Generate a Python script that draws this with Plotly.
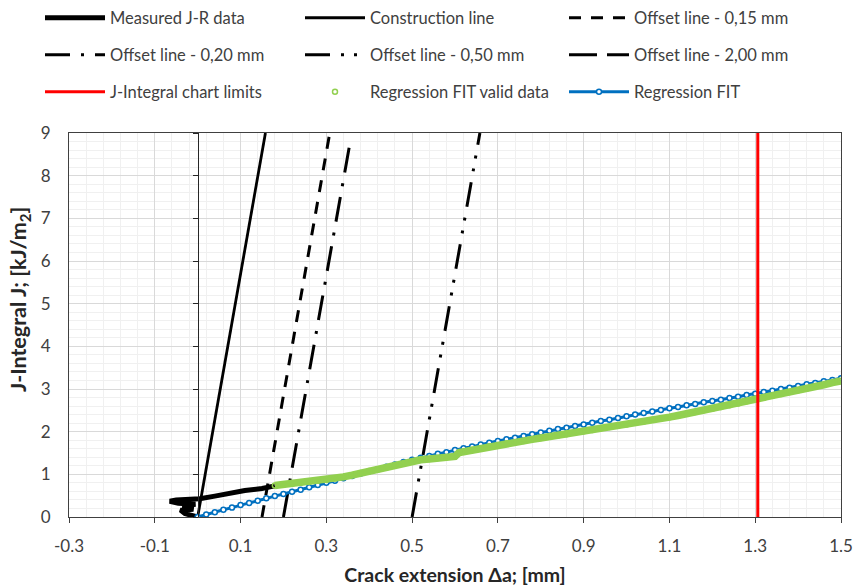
import plotly.graph_objects as go

# ---------------- data ----------------
measured_x = [0.0, -0.03, -0.04, -0.01, -0.035, -0.005, -0.045, -0.065, -0.05, -0.02, 0.005, 0.04, 0.075, 0.11, 0.15, 0.18]
measured_j = [0.0, 0.08, 0.16, 0.18, 0.26, 0.30, 0.32, 0.37, 0.40, 0.41, 0.43, 0.49, 0.56, 0.62, 0.67, 0.73]

construction_x = [0.0, 0.158]
construction_j = [0.0, 9.0]
offset015_x = [0.15, 0.308]
offset015_j = [0.0, 9.0]
offset020_x = [0.20, 0.355]
offset020_j = [0.0, 8.76]
offset050_x = [0.50, 0.658]
offset050_j = [0.0, 9.0]
offset200_x = [2.00, 2.158]
offset200_j = [0.0, 9.0]

limit_x = [1.306, 1.306]
limit_j = [0.0, 9.0]

valid_x = [0.18, 0.20, 0.22, 0.24, 0.26, 0.28, 0.30, 0.32, 0.34, 0.36, 0.38, 0.40, 0.42, 0.44, 0.46,
           0.48, 0.50, 0.52, 0.54, 0.56, 0.58, 0.60, 0.61, 0.62, 0.64, 0.66, 0.68, 0.70, 0.72, 0.74,
           0.76, 0.78, 0.80, 0.82, 0.84, 0.86, 0.88, 0.90, 0.92, 0.94, 0.96, 0.98, 1.00, 1.02, 1.04,
           1.06, 1.08, 1.10, 1.12, 1.14, 1.16, 1.18, 1.20, 1.22, 1.24, 1.26, 1.28, 1.30, 1.32, 1.34,
           1.36, 1.38, 1.40, 1.42, 1.44, 1.46, 1.48, 1.50]
valid_j = [0.74, 0.76, 0.78, 0.80, 0.83, 0.85, 0.87, 0.90, 0.94, 0.98, 1.03, 1.08, 1.12, 1.16, 1.21,
           1.25, 1.30, 1.34, 1.36, 1.38, 1.40, 1.42, 1.51, 1.53, 1.57, 1.61, 1.66, 1.69, 1.72, 1.75,
           1.78, 1.82, 1.85, 1.88, 1.91, 1.94, 1.98, 2.01, 2.04, 2.08, 2.11, 2.14, 2.17, 2.21, 2.24,
           2.28, 2.31, 2.34, 2.38, 2.42, 2.46, 2.50, 2.54, 2.58, 2.62, 2.66, 2.71, 2.75, 2.79, 2.84,
           2.88, 2.93, 2.97, 3.01, 3.06, 3.10, 3.15, 3.19]

fit_x = [0.00, 0.02, 0.04, 0.06, 0.08, 0.10, 0.12, 0.14, 0.16, 0.18, 0.20, 0.22, 0.24, 0.26, 0.28,
         0.30, 0.32, 0.34, 0.36, 0.38, 0.40, 0.42, 0.44, 0.46, 0.48, 0.50, 0.52, 0.54, 0.56, 0.58,
         0.60, 0.62, 0.64, 0.66, 0.68, 0.70, 0.72, 0.74, 0.76, 0.78, 0.80, 0.82, 0.84, 0.86, 0.88,
         0.90, 0.92, 0.94, 0.96, 0.98, 1.00, 1.02, 1.04, 1.06, 1.08, 1.10, 1.12, 1.14, 1.16, 1.18,
         1.20, 1.22, 1.24, 1.26, 1.28, 1.30, 1.32, 1.34, 1.36, 1.38, 1.40, 1.42, 1.44, 1.46, 1.48, 1.50]
fit_j = [0.00, 0.06, 0.11, 0.17, 0.22, 0.28, 0.33, 0.38, 0.44, 0.49, 0.54, 0.59, 0.64, 0.70, 0.75,
         0.80, 0.85, 0.91, 0.96, 1.02, 1.07, 1.12, 1.18, 1.23, 1.29, 1.34, 1.39, 1.43, 1.48, 1.52,
         1.57, 1.61, 1.65, 1.70, 1.74, 1.78, 1.82, 1.86, 1.90, 1.94, 1.98, 2.02, 2.06, 2.09, 2.13,
         2.17, 2.21, 2.25, 2.28, 2.32, 2.36, 2.40, 2.44, 2.47, 2.51, 2.55, 2.58, 2.62, 2.65, 2.69,
         2.72, 2.75, 2.79, 2.82, 2.86, 2.89, 2.93, 2.96, 3.00, 3.03, 3.07, 3.11, 3.14, 3.18, 3.21, 3.25]

x_tickvals = [-0.3, -0.1, 0.1, 0.3, 0.5, 0.7, 0.9, 1.1, 1.3, 1.5]
x_ticktext = ["-0.3", "-0.1", "0.1", "0.3", "0.5", "0.7", "0.9", "1.1", "1.3", "1.5"]
y_tickvals = [0, 1, 2, 3, 4, 5, 6, 7, 8, 9]
y_ticktext = ["0", "1", "2", "3", "4", "5", "6", "7", "8", "9"]

# ---------------- styling ----------------
FONT = "Lato, Liberation Sans, Arial, sans-serif"
TXT = "#404040"
TITLE = "#262626"
BLACK = "#000000"
GREEN = "#92D050"
BLUE = "#0070C0"
LEG_SIZE = 16.5
TICK_SIZE = 17
XTITLE_SIZE = 19.5
YTITLE_SIZE = 21.5

W, H = 855, 588
L, R, T, B = 69, 14, 133, 71
PW, PH = W - L - R, H - T - B

fig = go.Figure()


def line_trace(x, y, name, width, dash, legend, color=BLACK):
    return go.Scatter(x=x, y=y, mode="lines", name=name, legend=legend,
                      line=dict(color=color, width=width, dash=dash), hoverinfo="skip")


fig.add_trace(line_trace(measured_x, measured_j, "Measured J-R data", 5, "solid", "legend"))
fig.add_trace(line_trace(construction_x, construction_j, "Construction line", 2.8, "solid", "legend2"))
fig.add_trace(line_trace(offset015_x, offset015_j, "Offset line - 0,15 mm", 3, "12px,10px", "legend3"))
fig.add_trace(line_trace(offset020_x, offset020_j, "Offset line - 0,20 mm", 3,
                         "25px,11px,3px,11px", "legend4"))
fig.add_trace(line_trace(offset050_x, offset050_j, "Offset line - 0,50 mm", 3,
                         "25px,11px,3px,10px,3px,11px", "legend5"))
fig.add_trace(line_trace(offset200_x, offset200_j, "Offset line - 2,00 mm", 3, "28px,10px", "legend6"))
fig.add_trace(go.Scatter(x=limit_x, y=limit_j, mode="lines", name="J-Integral chart limits",
                         legend="legend7", yaxis="y2",
                         line=dict(color="#FF0000", width=3), hoverinfo="skip"))
# regression fit (drawn below the green valid data)
fig.add_trace(go.Scatter(x=fit_x, y=fit_j, mode="lines+markers", name="Regression FIT",
                         legend="legend9",
                         line=dict(color=BLUE, width=3),
                         marker=dict(symbol="circle", size=5, color="white",
                                     line=dict(color=BLUE, width=1.5)),
                         hoverinfo="skip"))
# green valid data: dense band + markers
fig.add_trace(go.Scatter(x=valid_x, y=valid_j, mode="lines", showlegend=False,
                         legend="legend8", line=dict(color=GREEN, width=7.5), hoverinfo="skip"))
fig.add_trace(go.Scatter(x=valid_x, y=valid_j, mode="markers", name="Regression FIT valid data",
                         legend="legend8",
                         marker=dict(symbol="circle-open", size=5, color=GREEN, line=dict(width=1.5)),
                         hoverinfo="skip"))

# ---------------- legends: one per cell, positioned in container pixels ----------------
col_left = [40, 300, 564]
row_mid = [18, 55, 92]


def legend_at(col, row):
    return dict(xref="container", yref="container",
                x=col_left[col] / W, y=1 - row_mid[row] / H,
                xanchor="left", yanchor="middle", orientation="h",
                bgcolor="rgba(0,0,0,0)", borderwidth=0,
                font=dict(family=FONT, size=LEG_SIZE, color=TXT), itemwidth=60,
                itemclick=False, itemdoubleclick=False)


legends = {}
names = ["legend", "legend2", "legend3", "legend4", "legend5", "legend6", "legend7", "legend8", "legend9"]
for i, nm in enumerate(names):
    legends[nm] = legend_at(i % 3, i // 3)

fig.update_layout(
    width=W, height=H,
    margin=dict(l=L, r=R, t=T, b=B, autoexpand=False),
    paper_bgcolor="white", plot_bgcolor="white",
    font=dict(family=FONT, size=TICK_SIZE, color=TXT),
    showlegend=True,
    xaxis=dict(range=[-0.3, 1.5], tickmode="array", tickvals=x_tickvals, ticktext=x_ticktext,
               showgrid=True, gridcolor="#D9D9D9", gridwidth=1,
               minor=dict(tick0=-0.3, dtick=0.04, showgrid=True, gridcolor="#F0F0F0", gridwidth=1),
               zeroline=False, showline=True, linecolor="#404040", linewidth=1, mirror=True,
               ticks="outside", ticklen=5, tickcolor="#404040", ticklabelstandoff=9,
               automargin=False,
               tickfont=dict(family=FONT, size=TICK_SIZE, color=TXT),
               title=dict(text="<b>Crack extension Δa; [mm]</b>", standoff=12,
                          font=dict(family=FONT, size=XTITLE_SIZE, color=TITLE))),
    yaxis=dict(range=[0, 9], tickmode="array", tickvals=y_tickvals, ticktext=y_ticktext,
               showgrid=True, gridcolor="#D9D9D9", gridwidth=1,
               minor=dict(tick0=0, dtick=0.2, showgrid=True, gridcolor="#F0F0F0", gridwidth=1),
               zeroline=False, showline=True, linecolor="#404040", linewidth=1, mirror=True,
               ticks="outside", ticklen=14, tickcolor="rgba(0,0,0,0)",
               automargin=False,
               tickfont=dict(family=FONT, size=TICK_SIZE, color=TXT)),
    yaxis2=dict(range=[0, 9], overlaying="y", anchor="free", position=0.3 / 1.8, side="left",
                showgrid=False, zeroline=False, showticklabels=False, showline=True,
                linecolor="#262626", linewidth=1, ticks="outside", ticklen=5, tickcolor="#262626",
                tickmode="array", tickvals=y_tickvals, automargin=False),
    annotations=[dict(text="<b>J-Integral J; [kJ/m<sub>2</sub>]</b>", textangle=-90,
                      xref="paper", yref="paper", x=(19 - L) / PW, y=(H - B - 300) / PH,
                      xanchor="center", yanchor="middle", showarrow=False,
                      font=dict(family=FONT, size=YTITLE_SIZE, color=TITLE))],
    **legends,
)

fig.write_html("out.html", config={"displayModeBar": False},
               post_script="document.body.style.margin='0px';")
